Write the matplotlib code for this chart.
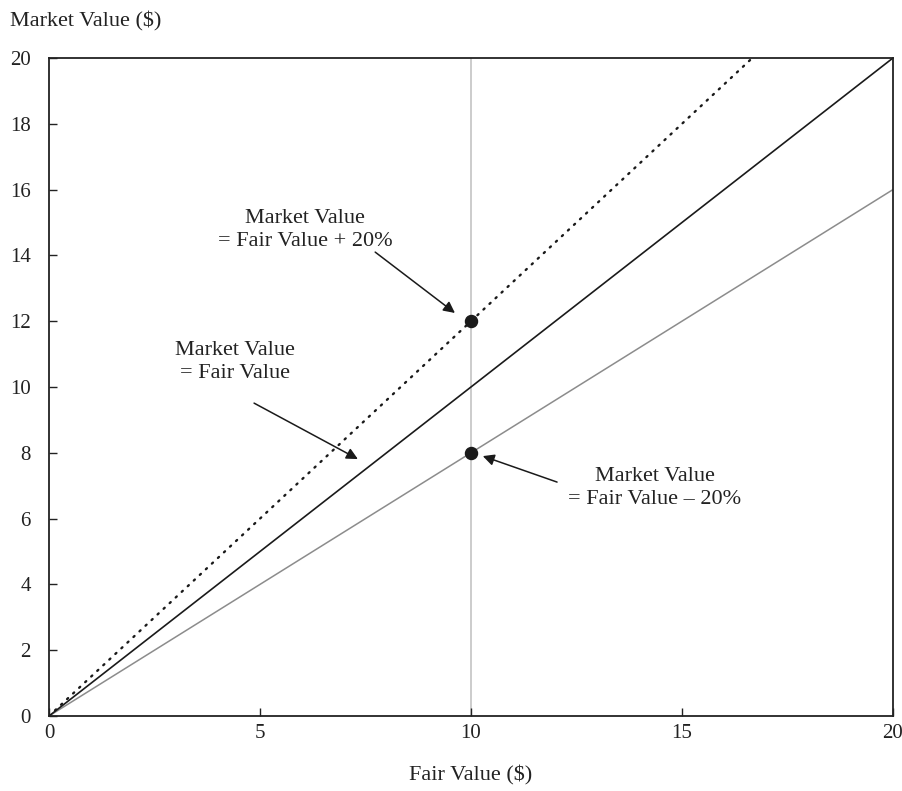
import matplotlib
matplotlib.use("Agg")
import matplotlib.pyplot as plt

fair_value = [0, 20]
slope_equal = 1.0
slope_plus = 1.2
slope_minus = 0.8
fair_ref = 10
marked_points_x = [10, 10]
marked_points_y = [12, 8]

x_ticks = [0, 5, 10, 15, 20]
y_ticks = [0, 2, 4, 6, 8, 10, 12, 14, 16, 18, 20]

plt.rcParams["font.family"] = ["Liberation Serif", "DejaVu Serif"]
plt.rcParams["font.size"] = 16

fig = plt.figure(figsize=(9.02, 7.91), dpi=100)
ax = fig.add_axes([0.0543, 0.0948, 0.9357, 0.8319])

ax.axvline(fair_ref, color="#c8c8c8", lw=1.3, zorder=1)
ax.plot(fair_value, [v * slope_minus for v in fair_value], color="#8c8c8c", lw=1.1, zorder=2)
ax.plot(fair_value, [v * slope_equal for v in fair_value], color="#1a1a1a", lw=1.2, zorder=2)
ax.plot(fair_value, [v * slope_plus for v in fair_value], color="#1a1a1a", lw=1.7,
        linestyle=(0, (0.6, 2.9)), dash_capstyle="round", zorder=2)
ax.scatter(marked_points_x, marked_points_y, s=75, color="#1a1a1a", zorder=3)

ax.set_xlim(0, 20)
ax.set_ylim(0, 20)
ax.set_xticks(x_ticks)
ax.set_yticks(y_ticks)
ax.tick_params(direction="in", length=6, width=1, colors="#222222", labelsize=15)
ax.tick_params(axis="x", pad=6)
ax.tick_params(axis="y", pad=13)
for s in ax.spines.values():
    s.set_linewidth(1.3)
    s.set_color("#222222")

ax.set_xlabel("Fair Value ($)", labelpad=16, color="#222222")
fig.text(0.011, 0.973, "Market Value ($)", ha="left", va="center", color="#222222")

arrow = dict(arrowstyle="-|>", color="#1a1a1a", lw=1.1, mutation_scale=17, shrinkA=0, shrinkB=0)
ax.annotate("", xy=(9.62, 12.25), xytext=(7.73, 14.1), arrowprops=arrow)
ax.annotate("", xy=(7.32, 7.81), xytext=(4.86, 9.51), arrowprops=arrow)
ax.annotate("", xy=(10.28, 7.9), xytext=(12.04, 7.11), arrowprops=arrow)

ax.text(6.07, 14.77, "Market Value\n= Fair Value + 20%", ha="center", va="center",
        linespacing=1.3, color="#222222")
ax.text(4.41, 10.76, "Market Value\n= Fair Value", ha="center", va="center",
        linespacing=1.3, color="#222222")
ax.text(14.36, 6.93, "Market Value\n= Fair Value \u2013 20%", ha="center", va="center",
        linespacing=1.3, color="#222222")

fig.savefig("out.png", dpi=100)
